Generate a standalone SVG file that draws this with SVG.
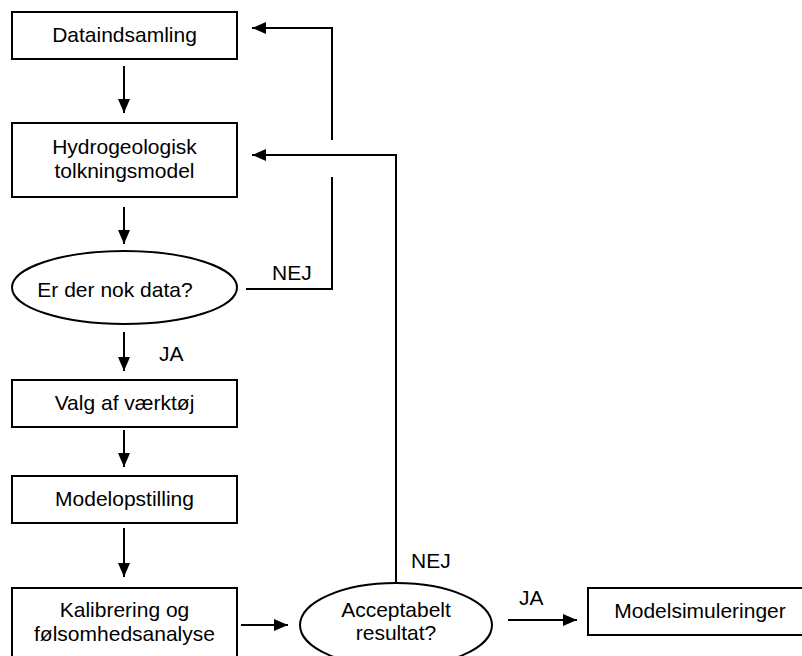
<svg xmlns="http://www.w3.org/2000/svg" width="802" height="656" viewBox="0 0 802 656">
<style>
.box{fill:#fff;stroke:#000;stroke-width:2}
.t{font-family:"Liberation Sans",Arial,sans-serif;font-size:21px;fill:#000;text-anchor:middle}
.l{font-family:"Liberation Sans",Arial,sans-serif;font-size:21px;fill:#000}
.c{fill:none;stroke:#000;stroke-width:2}
</style>
<defs>
<marker id="arr" markerUnits="userSpaceOnUse" markerWidth="14" markerHeight="12" refX="14" refY="6" orient="auto">
<path d="M0,0 L14,6 L0,12 z" fill="#000"/>
</marker>
</defs>
<rect width="802" height="656" fill="#fff"/>
<g id="connectors">
<line class="c" x1="124" y1="66" x2="124" y2="113" marker-end="url(#arr)"/>
<line class="c" x1="124" y1="207" x2="124" y2="244" marker-end="url(#arr)"/>
<line class="c" x1="124" y1="332" x2="124" y2="371" marker-end="url(#arr)"/>
<line class="c" x1="124" y1="430" x2="124" y2="467" marker-end="url(#arr)"/>
<line class="c" x1="124" y1="528" x2="124" y2="577" marker-end="url(#arr)"/>
<line class="c" x1="241" y1="625" x2="288" y2="625" marker-end="url(#arr)"/>
<line class="c" x1="508" y1="620" x2="577" y2="620" marker-end="url(#arr)"/>
<polyline class="c" points="246,289 332,289 332,177"/>
<polyline class="c" points="332,140 332,28 252,28" marker-end="url(#arr)"/>
<polyline class="c" points="396,582 396,155 252,155" marker-end="url(#arr)"/>
<text class="l" x="272" y="280">NEJ</text>
<text class="l" x="159" y="361">JA</text>
<text class="l" x="411" y="568">NEJ</text>
<text class="l" x="519" y="605">JA</text>
</g>
<g id="dataindsamling">
<rect class="box" x="12" y="12" width="225" height="47"/>
<text class="t" x="124.5" y="42">Dataindsamling</text>
</g>
<g id="hydrogeologisk">
<rect class="box" x="12" y="123" width="225" height="74"/>
<text class="t" x="124.5" y="154">Hydrogeologisk</text>
<text class="t" x="124.5" y="178">tolkningsmodel</text>
</g>
<g id="nok-data">
<ellipse class="box" cx="124.5" cy="287.5" rx="112.5" ry="36.5"/>
<text class="t" x="115" y="297">Er der nok data?</text>
</g>
<g id="valg">
<rect class="box" x="12" y="380" width="225" height="47"/>
<text class="t" x="124.5" y="410">Valg af værktøj</text>
</g>
<g id="modelopstilling">
<rect class="box" x="12" y="476" width="225" height="47"/>
<text class="t" x="124.5" y="506">Modelopstilling</text>
</g>
<g id="kalibrering">
<rect class="box" x="12" y="588" width="225" height="80"/>
<text class="t" x="124.5" y="617">Kalibrering og</text>
<text class="t" x="124.5" y="641">følsomhedsanalyse</text>
</g>
<g id="acceptabelt">
<ellipse class="box" cx="396" cy="625" rx="96" ry="42"/>
<text class="t" x="396" y="617">Acceptabelt</text>
<text class="t" x="396" y="640">resultat?</text>
</g>
<g id="modelsimuleringer">
<rect class="box" x="588" y="588" width="224" height="47"/>
<text class="t" x="700" y="618">Modelsimuleringer</text>
</g>
</svg>
